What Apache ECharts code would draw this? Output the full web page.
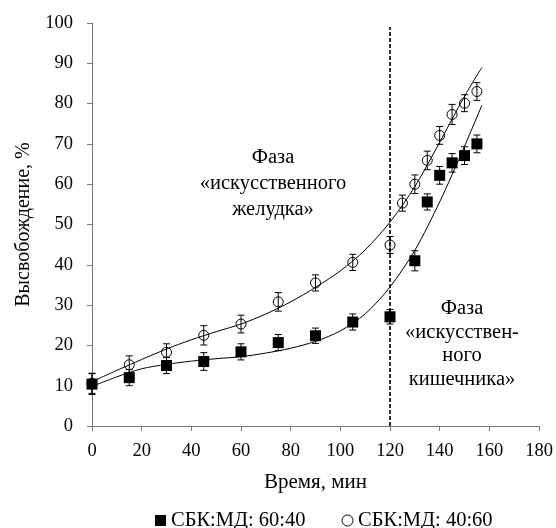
<!DOCTYPE html>
<html><head><meta charset="utf-8">
<script src="https://cdn.jsdelivr.net/npm/echarts@6/dist/echarts.min.js"></script>
<style>html,body{margin:0;padding:0;background:#fff}#c{width:556px;height:528px}</style>
</head><body><div id="c"></div>
<script>
const xTicks = [0,20,40,60,80,100,120,140,160,180];
const yTicks = [0,10,20,30,40,50,60,70,80,90,100];
const seriesA = 'СБК:МД: 60:40';
const seriesB = 'СБК:МД: 40:60';
const timeA = [0,15,30,45,60,75,90,105,120,130,135,140,145,150,155];
const valA  = [10.4,12.0,15.0,16.0,18.4,20.7,22.4,25.8,27.1,41.0,55.6,62.2,65.3,67.1,70.0];
const errA  = [2.6,2.0,2.0,2.2,2.0,2.0,1.9,2.0,1.8,2.5,2.0,2.2,2.3,2.2,2.2];
const timeB = [0,15,30,45,60,75,90,105,120,125,130,135,140,145,150,155];
const valB  = [10.6,15.2,18.3,22.5,25.3,30.8,35.5,40.6,44.9,55.3,60.0,65.9,72.1,77.3,80.1,83.0];
const errB  = [2.5,2.2,2.1,2.4,2.2,2.3,2.0,2.0,2.1,2.0,2.3,2.3,2.2,2.5,2.1,2.2];
// trend curves
const trendTime  = [0,10,20,30,40,50,60,70,80,90,100,110,120,130,140,150,157];
const trendValA  = [9.8,12.2,14.2,15.3,16.1,16.7,17.2,18.1,19.3,21.0,23.6,27.8,34.5,43.6,55.6,69.4,79.6];
const trendValB  = [11.0,13.8,16.5,19.1,21.4,23.4,25.3,27.8,30.8,34.4,38.5,43.7,50.6,59.4,70.4,81.8,89.0];
const phaseX = 120;
const phaseY = [0, 99];

const pairs = (xs, ys) => xs.map((x,i)=>[x, ys[i]]);
const errData = (xs, ys, es) => xs.map((x,i)=>[x, ys[i]-es[i], ys[i]+es[i]]);
const FONT = "'Liberation Serif', 'Times New Roman', 'DejaVu Serif', serif";

function errRender(params, api){
  const x = api.value(0), lo = api.value(1), hi = api.value(2);
  const p1 = api.coord([x, lo]), p2 = api.coord([x, hi]);
  const w = 3.5;
  const st = {stroke:'#000', lineWidth:1};
  return {type:'group', children:[
    {type:'line', shape:{x1:p1[0],y1:p1[1],x2:p2[0],y2:p2[1]}, style:st},
    {type:'line', shape:{x1:p1[0]-w,y1:p1[1],x2:p1[0]+w,y2:p1[1]}, style:st},
    {type:'line', shape:{x1:p2[0]-w,y1:p2[1],x2:p2[0]+w,y2:p2[1]}, style:st}
  ]};
}

const chart = echarts.init(document.getElementById('c'), null, {renderer:'canvas'});
chart.setOption({
  animation:false,
  textStyle:{fontFamily:FONT},
  grid:{left:92, right:17, top:23, bottom:102},
  xAxis:{type:'value', min:0, max:180, interval:20,
    name:'Время, мин', nameLocation:'middle', nameGap:46,
    nameTextStyle:{fontFamily:FONT, fontSize:21, color:'#000'},
    axisLine:{lineStyle:{color:'#777', width:1}},
    axisTick:{show:true, length:5, lineStyle:{color:'#777'}},
    axisLabel:{fontFamily:FONT, fontSize:18.5, color:'#000', margin:16,
      formatter:v=>xTicks.includes(v)?String(v):''},
    splitLine:{show:false}},
  yAxis:{type:'value', min:0, max:100, interval:10,
    name:'Высвобождение, %', nameLocation:'middle', nameGap:58, nameRotate:90,
    nameTextStyle:{fontFamily:FONT, fontSize:20, color:'#000'},
    axisLine:{show:true, lineStyle:{color:'#777', width:1}},
    axisTick:{show:true, length:5, lineStyle:{color:'#777'}},
    axisLabel:{fontFamily:FONT, fontSize:18.5, color:'#000', margin:19,
      formatter:v=>yTicks.includes(v)?String(v):''},
    splitLine:{show:false}},
  legend:{top:505, left:150, itemGap:36, itemWidth:11, itemHeight:11,
    textStyle:{fontFamily:FONT, fontSize:20.5, color:'#000'},
    data:[{name:seriesA, icon:'rect', itemStyle:{color:'#000', opacity:1}}, {name:seriesB, icon:'circle',
      itemStyle:{color:'#fff', borderColor:'#000', borderWidth:1}}]},
  series:[
    {type:'line', name:'phase', data:[[phaseX, phaseY[0]],[phaseX, phaseY[1]]], showSymbol:false,
      lineStyle:{color:'#000', width:1.6, type:[4,2]}, silent:true, z:1},
    {type:'line', name:'trendA', data:pairs(trendTime, trendValA), smooth:0.3, showSymbol:false,
      lineStyle:{color:'#000', width:1}, z:2},
    {type:'line', name:'trendB', data:pairs(trendTime, trendValB), smooth:0.3, showSymbol:false,
      lineStyle:{color:'#000', width:1}, z:2},
    {type:'custom', name:'errA', renderItem:errRender, data:errData(timeA, valA, errA), z:3,
      encode:{x:0, y:[1,2]}},
    {type:'custom', name:'errB', renderItem:errRender, data:errData(timeB, valB, errB), z:3,
      encode:{x:0, y:[1,2]}},
    {type:'scatter', name:seriesA, data:pairs(timeA, valA), symbol:'rect', symbolSize:11,
      itemStyle:{color:'#000', opacity:1}, z:5},
    {type:'scatter', name:seriesB, data:pairs(timeB, valB), symbol:'circle', symbolSize:10,
      itemStyle:{color:'rgba(255,255,255,0)', borderColor:'#000', borderWidth:1, opacity:1}, z:5}
  ],
  graphic:[
    {type:'text', x:273, y:145, style:{text:'Фаза\n«искусственного\nжелудка»', fontFamily:FONT, fontSize:20.5,
      lineHeight:26, fill:'#000', align:'center'}},
    {type:'text', x:462, y:297, style:{text:'Фаза\n«искусствен-\nного\nкишечника»', fontFamily:FONT, fontSize:20.5,
      lineHeight:23.5, fill:'#000', align:'center'}}
  ]
});
</script></body></html>
